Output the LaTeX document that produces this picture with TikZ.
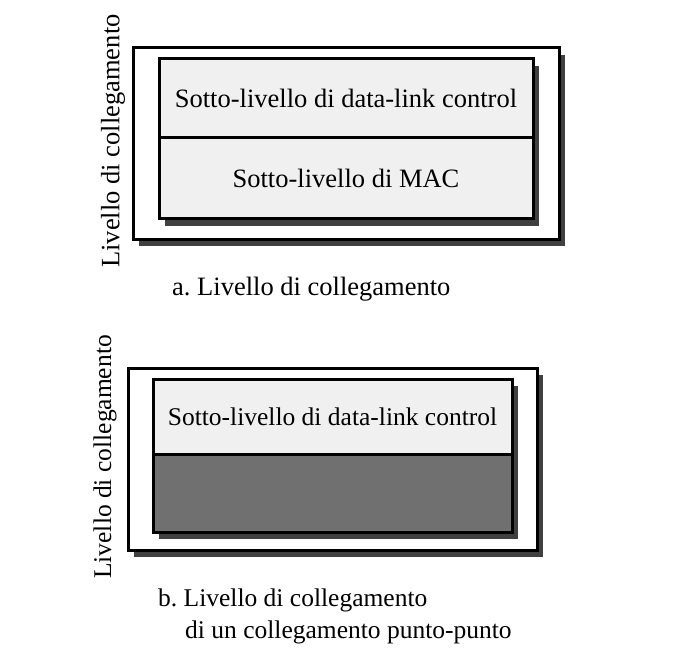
\documentclass[tikz,border=0pt]{standalone}
\usepackage{fontspec}
\setmainfont{Liberation Serif}
\usetikzlibrary{shadows}
\definecolor{layergray}{HTML}{F0F0F0}
\definecolor{darkgray}{HTML}{707070}
\definecolor{shadowgray}{HTML}{404040}
\tikzset{
  boxshadow/.style={drop shadow={shadow xshift=6pt,shadow yshift=-7pt,fill=shadowgray,opacity=1}},
  outerbox/.style={draw,line width=3pt,fill=white,boxshadow,inner sep=0pt},
  layerbox/.style={draw,line width=3pt,fill=layergray,boxshadow,inner sep=0pt},
  bigtext/.style={font=\fontsize{26.5}{30}\selectfont},
  smalltext/.style={font=\fontsize{25.5}{30}\selectfont}
}
\frenchspacing
\begin{document}
\begin{tikzpicture}[x=1pt,y=-1pt]
\useasboundingbox (0,0) rectangle (686,650);
% a. livello di collegamento
\node [outerbox,minimum width=426,minimum height=191] (outA) at (346,143.5) {};
\node [layerbox,bigtext,minimum width=374,minimum height=79] (dlcA) at (346,98.5) {Sotto-livello di data-link control};
\node [layerbox,bigtext,minimum width=374,minimum height=81] (macA) at (346,178.5) {Sotto-livello di MAC};
\node [bigtext,rotate=90] (vertA) at (113,141) {Livello di collegamento};
\node [bigtext,anchor=west,inner sep=0pt] (capA) at (172,289) {a. Livello di collegamento};
% b. collegamento punto-punto
\node [outerbox,minimum width=409,minimum height=182] (outB) at (332.5,459) {};
\node [layerbox,smalltext,minimum width=359,minimum height=75] (dlcB) at (332.5,416.5) {Sotto-livello di data-link control};
\node [layerbox,fill=darkgray,minimum width=359,minimum height=78] (emptyB) at (332.5,493) {};
\node [smalltext,rotate=90] (vertB) at (105,457) {Livello di collegamento};
\node [smalltext,anchor=west,inner sep=0pt] (capB) at (158,600) {b. Livello di collegamento};
\node [smalltext,anchor=west,inner sep=0pt] (capB2) at (185,632) {di un collegamento punto-punto};
\end{tikzpicture}
\end{document}
